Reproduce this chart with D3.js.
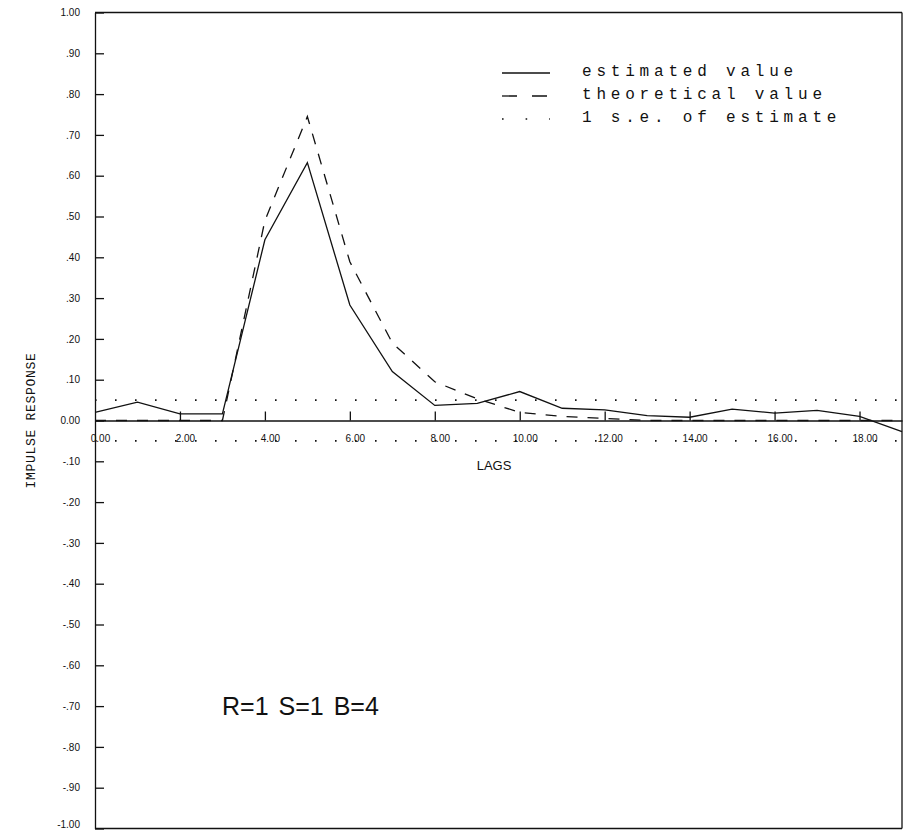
<!DOCTYPE html>
<html>
<head>
<meta charset="utf-8">
<script src="https://cdn.jsdelivr.net/npm/d3@7"></script>
<style>
  body { margin: 0; background: #fff; }
  svg { display: block; }
  text { fill: #111; }
</style>
</head>
<body>
<div id="chart"></div>
<script>
// impulse response weights, one per lag
const lags = [0, 1, 2, 3, 4, 5, 6, 7, 8, 9, 10, 11, 12, 13, 14, 15, 16, 17, 18, 19];
const estimated = [0.020, 0.045, 0.016, 0.016, 0.443, 0.632, 0.283, 0.120, 0.037, 0.042,
                   0.071, 0.030, 0.026, 0.012, 0.008, 0.028, 0.018, 0.025, 0.010, -0.027];
const theoretical = [0, 0, 0, 0, 0.490, 0.745, 0.389, 0.190, 0.095, 0.053,
                     0.020, 0.010, 0.005, 0, 0, 0, 0, 0, 0, 0];
const stdErr = 0.05;

const yTicks = [1, 0.9, 0.8, 0.7, 0.6, 0.5, 0.4, 0.3, 0.2, 0.1, 0,
                -0.1, -0.2, -0.3, -0.4, -0.5, -0.6, -0.7, -0.8, -0.9, -1];
const xTicks = [0, 2, 4, 6, 8, 10, 12, 14, 16, 18];
const legendLabels = ['estimated value', 'theoretical value', '1 s.e. of estimate'];
const modelNote = 'R=1 S=1 B=4';

const width = 909, height = 830;
const ink = '#111';

const svg = d3.select('#chart').append('svg')
    .attr('width', width)
    .attr('height', height);

const x = d3.scaleLinear().domain([0, 19]).range([95, 902]);
const y = d3.scaleLinear().domain([-1, 1]).range([828.5, 12.5]);

const fmtY = v => v === 0 ? '0.00' : v.toFixed(2).replace(/^(-?)0\./, '$1.');

// left axis with inward ticks
svg.append('g')
    .attr('transform', `translate(${x(0)},0)`)
    .call(d3.axisRight(y).tickValues(yTicks).tickSize(9).tickSizeOuter(0).tickFormat(''))
    .call(g => g.selectAll('path, line').attr('stroke', ink).attr('stroke-width', 1.3));

svg.append('g')
    .attr('transform', `translate(${x(0)},0)`)
    .call(d3.axisLeft(y).tickValues(yTicks).tickSize(0).tickPadding(15).tickFormat(fmtY))
    .call(g => g.select('.domain').remove())
    .call(g => g.selectAll('text')
        .attr('font-family', 'Liberation Sans, Arial, sans-serif')
        .attr('font-size', 10)
        .attr('fill', ink))
    // bottom label sits right on the page edge; lift it so it stays whole
    .call(g => g.selectAll('.tick').filter(d => d === -1).select('text').attr('dy', '-0.1em'));

// zero line with short ticks pointing up
svg.append('g')
    .attr('transform', `translate(0,${y(0)})`)
    .call(d3.axisTop(x).tickValues(xTicks.filter(d => d > 0)).tickSize(9).tickSizeOuter(0).tickFormat(''))
    .call(g => g.selectAll('path, line').attr('stroke', ink).attr('stroke-width', 1.3));

svg.append('g')
    .attr('transform', `translate(5,${y(0)})`)
    .call(d3.axisBottom(x).tickValues(xTicks).tickSize(0).tickPadding(14).tickFormat(d => d.toFixed(2)))
    .call(g => g.select('.domain').remove())
    .call(g => g.selectAll('text')
        .attr('font-family', 'Liberation Sans, Arial, sans-serif')
        .attr('font-size', 10)
        .attr('fill', ink));

// frame: top, right, bottom
const frame = svg.append('g')
    .attr('stroke', ink)
    .attr('stroke-width', 1.3)
    .attr('fill', 'none');
frame.append('line').attr('x1', x(0)).attr('x2', x(19)).attr('y1', y(1)).attr('y2', y(1));
frame.append('line').attr('x1', x(19)).attr('x2', x(19)).attr('y1', y(1)).attr('y2', y(-1));
frame.append('line').attr('x1', x(0)).attr('x2', x(19)).attr('y1', y(-1)).attr('y2', y(-1));

// +/- 1 s.e. dotted bands
[stdErr, -stdErr].forEach(v => {
    svg.append('line')
        .attr('x1', x(0)).attr('x2', x(19))
        .attr('y1', y(v)).attr('y2', y(v))
        .attr('stroke', ink)
        .attr('stroke-width', 1.6)
        .attr('stroke-dasharray', '1.6,18.4');
});

const line = d3.line()
    .x((d, i) => x(lags[i]))
    .y(d => y(d));

svg.append('path')
    .datum(theoretical)
    .attr('d', line)
    .attr('fill', 'none')
    .attr('stroke', ink)
    .attr('stroke-width', 1.3)
    .attr('stroke-dasharray', '11,10');

svg.append('path')
    .datum(estimated)
    .attr('d', line)
    .attr('fill', 'none')
    .attr('stroke', ink)
    .attr('stroke-width', 1.3);

// legend
const legend = svg.append('g');
const legendY = [76, 99, 122];
const dashes = [null, '15,15', '1.6,22'];
legendLabels.forEach((label, i) => {
    legend.append('line')
        .attr('x1', 502).attr('x2', 550)
        .attr('y1', legendY[i] - 3).attr('y2', legendY[i] - 3)
        .attr('stroke', ink)
        .attr('stroke-width', i === 2 ? 1.6 : 1.3)
        .attr('stroke-dasharray', dashes[i]);
    legend.append('text')
        .attr('x', 582)
        .attr('y', legendY[i])
        .attr('font-family', 'Liberation Mono, DejaVu Sans Mono, monospace')
        .attr('font-size', 16)
        .attr('letter-spacing', 4.8)
        .text(label);
});

// axis titles
svg.append('text')
    .attr('x', 494)
    .attr('y', 470)
    .attr('text-anchor', 'middle')
    .attr('font-family', 'Liberation Sans, Arial, sans-serif')
    .attr('font-size', 13)
    .text('LAGS');

svg.append('text')
    .attr('transform', `translate(35,${y(0)}) rotate(-90)`)
    .attr('text-anchor', 'middle')
    .attr('font-family', 'Liberation Mono, DejaVu Sans Mono, monospace')
    .attr('font-size', 13)
    .attr('letter-spacing', 0.7)
    .text('IMPULSE RESPONSE');

svg.append('text')
    .attr('x', 222)
    .attr('y', 715)
    .attr('font-family', 'Liberation Sans, Arial, sans-serif')
    .attr('font-size', 25)
    .attr('word-spacing', 3)
    .text(modelNote);
</script>
</body>
</html>
